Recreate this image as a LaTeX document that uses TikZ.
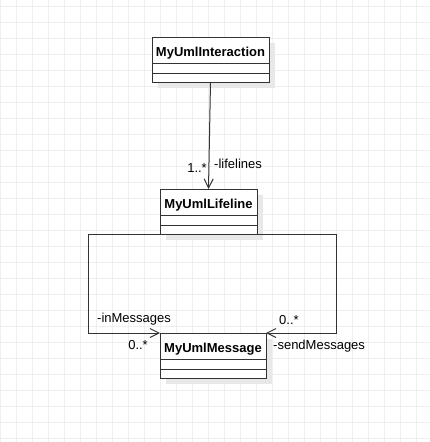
\documentclass[tikz,border=0pt]{standalone}
\usepackage{fontspec}
\setmainfont{Liberation Sans}
\usetikzlibrary{arrows.meta,positioning,shadows}
\definecolor{gridgray}{HTML}{EFEFEF}
\definecolor{shadowgray}{HTML}{E8E8E8}
\definecolor{linegray}{HTML}{333333}

\tikzset{
    classpart/.style={draw=linegray, line width=1pt, fill=white, minimum width=#1,
        inner sep=0pt, outer sep=0pt,
        drop shadow={shadow xshift=6pt, shadow yshift=-6pt, fill=shadowgray, draw=none, opacity=1}},
    classtitle/.style={classpart=#1, minimum height=26pt, text height=12pt, text depth=0pt,
        font=\fontsize{13}{15}\selectfont\bfseries},
    classattrs/.style={classpart=#1, minimum height=10pt},
    classops/.style={classpart=#1, minimum height=9pt},
    assoc/.style={draw=linegray, line width=1pt, -{Straight Barb[length=9pt,width=9pt]}},
    rolelabel/.style={font=\fontsize{13}{15}\selectfont, inner sep=0pt},
}

\begin{document}
\begin{tikzpicture}[x=1pt, y=-1pt]

    \useasboundingbox (0,0) rectangle (430,442);
    \fill[white] (0,0) rectangle (430,442);

    % background grid
        \foreach \gx in {0,16,...,430}
            \draw[gridgray, line width=1pt] (\gx,0) -- (\gx,442);
        \foreach \gy in {6,22,...,442}
            \draw[gridgray, line width=1pt] (0,\gy) -- (430,\gy);

    % classes
        %% interaction
        \node[classtitle=117pt, anchor=north] (interaction) at (210.5,37) {MyUmlInteraction};
        \node[classattrs=117pt, below=0pt of interaction] (interaction-attrs) {};
        \node[classops=117pt, below=0pt of interaction-attrs] (interaction-ops) {};

        %% lifeline
        \node[classtitle=97pt, anchor=north] (lifeline) at (208.5,189) {MyUmlLifeline};
        \node[classattrs=97pt, below=0pt of lifeline] (lifeline-attrs) {};
        \node[classops=97pt, below=0pt of lifeline-attrs] (lifeline-ops) {};

        %% message
        \node[classtitle=106pt, anchor=north] (message) at (213,333) {MyUmlMessage};
        \node[classattrs=106pt, below=0pt of message] (message-attrs) {};
        \node[classops=106pt, below=0pt of message-attrs] (message-ops) {};

    % associations
        %% lifelines
        \draw[assoc] (interaction-ops.south) -- (lifeline.north);
        \node[rolelabel, anchor=base east] (lifelines-mult) at (207,172) {1..*};
        \node[rolelabel, anchor=base west] (lifelines-role) at (214,168) {-lifelines};

        %% inMessages
        \coordinate (in-turn) at (88,333);
        \draw[assoc] (lifeline-ops.south west) -| (in-turn) -- (message.north west);
        \node[rolelabel, anchor=base west] (in-role) at (97,322) {-inMessages};
        \node[rolelabel, anchor=base east] (in-mult) at (148,349) {0..*};

        %% sendMessages
        \coordinate (send-turn) at (336,333);
        \draw[assoc] (lifeline-ops.south east) -| (send-turn) -- (message.north east);
        \node[rolelabel, anchor=base west] (send-mult) at (279,324) {0..*};
        \node[rolelabel, anchor=base west] (send-role) at (273,349) {-sendMessages};

\end{tikzpicture}
\end{document}
